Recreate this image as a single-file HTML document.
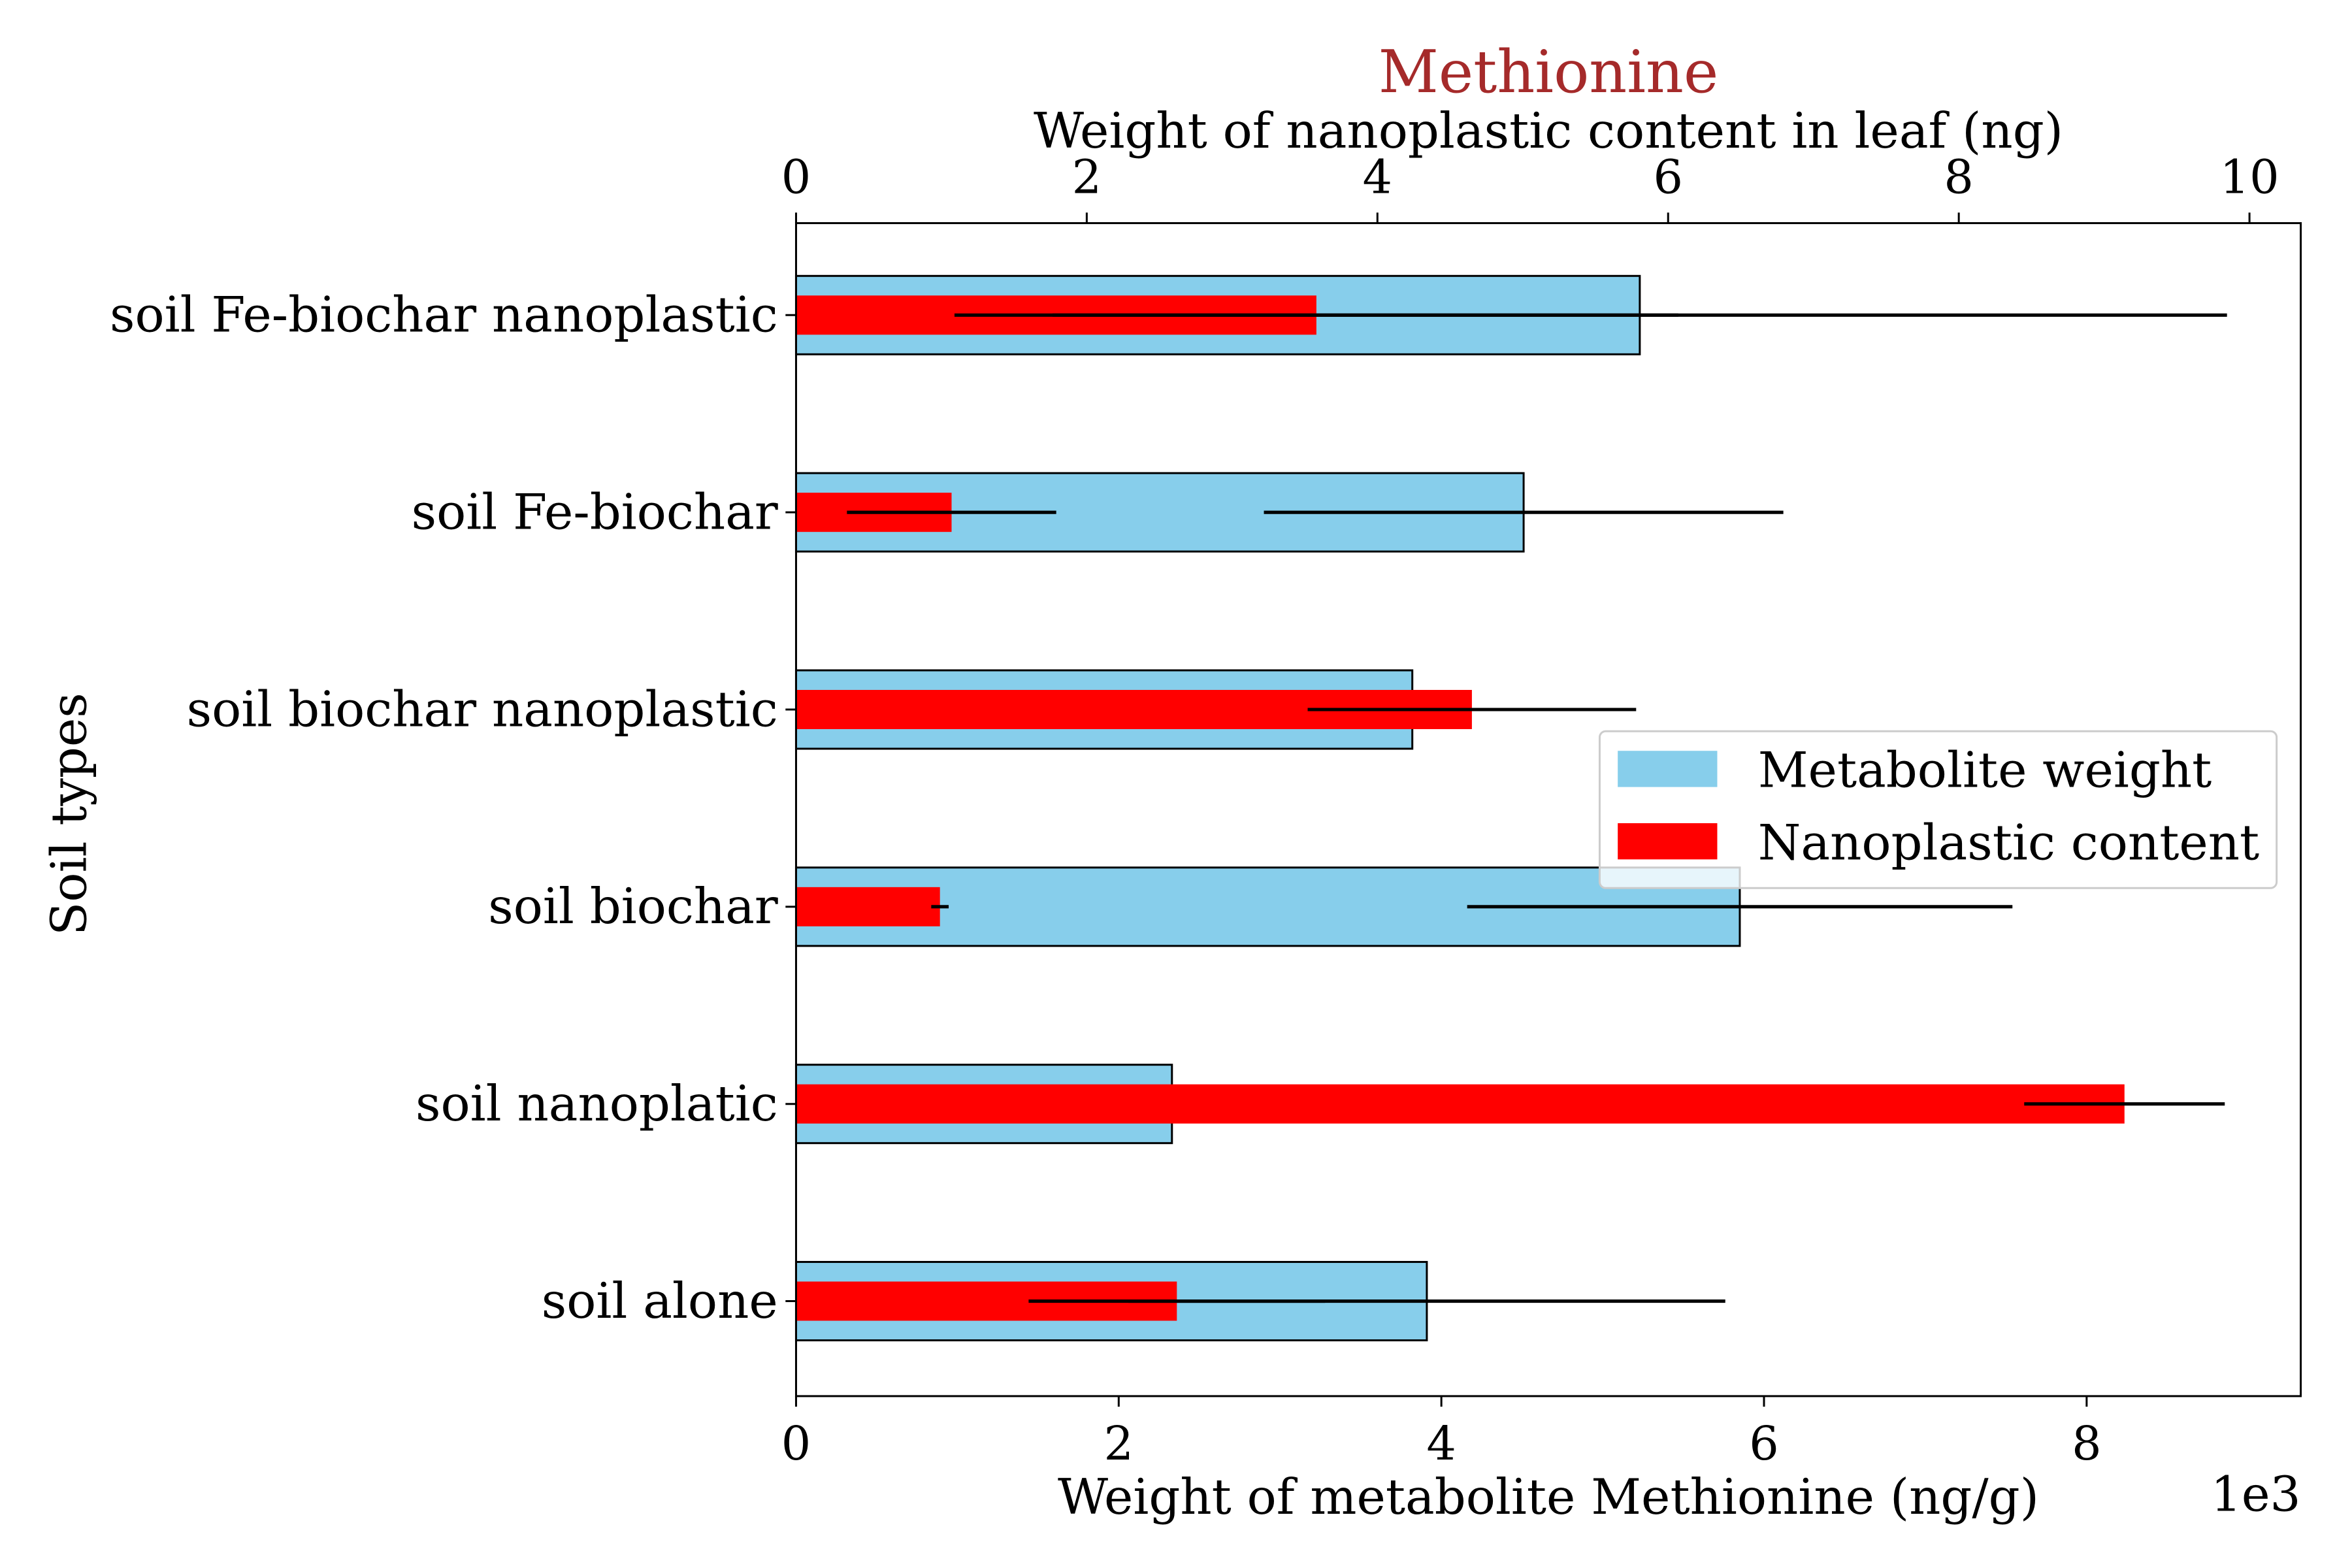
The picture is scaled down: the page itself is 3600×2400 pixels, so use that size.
<!DOCTYPE html>
<html><head><meta charset="utf-8"><style>html,body{margin:0;padding:0;background:#fff}svg{display:block}</style></head>
<body>
<svg id="chart" width="3600" height="2400" viewBox="0 0 1560 1040" xmlns="http://www.w3.org/2000/svg" font-family="'DejaVu Serif','Liberation Serif',serif">
<g id="g"></g>
</svg>
<script>
const categories=["soil Fe-biochar nanoplastic","soil Fe-biochar","soil biochar nanoplastic","soil biochar","soil nanoplatic","soil alone"];
const metaboliteValues=[5.23,4.51,3.82,5.85,2.33,3.91];
const metaboliteErr=[3.64,1.61,0.05,1.69,0.0,1.85];
const nanoValues=[3.58,1.07,4.65,0.99,9.14,2.62];
const nanoErr=[2.49,0.72,1.13,0.06,0.69,1.02];
const bottomTicks=[0,2,4,6,8];
const topTicks=[0,2,4,6,8,10];

const L=528,R=1526,T=148,B=926;
const xb=v=>L+v*107.0;
const xt=v=>L+v*96.4;
const yc=i=>209+i*130.8;
const ns="http://www.w3.org/2000/svg";
const g=document.getElementById('g');
function el(tag,attrs,text){const e=document.createElementNS(ns,tag);for(const k in attrs)e.setAttribute(k,attrs[k]);if(text!==undefined)e.textContent=text;g.appendChild(e);return e;}

categories.forEach((c,i)=>{
  const y=yc(i);
  const b=el('rect',{x:L,y:y-26,width:xb(metaboliteValues[i])-L,height:52,fill:'#87ceeb',stroke:'#000','stroke-width':1.3});
  
  
  const r=el('rect',{x:L,y:y-13,width:xt(nanoValues[i])-L,height:26,fill:'#ff0000'});
  
  
});
categories.forEach((c,i)=>{
  const y=yc(i);
  if(metaboliteErr[i]>0){
  const e1=el('line',{x1:xb(metaboliteValues[i]-metaboliteErr[i]),x2:xb(metaboliteValues[i]+metaboliteErr[i]),y1:y,y2:y,stroke:'#000','stroke-width':2.2});
  
  }
  const e2=el('line',{x1:xt(nanoValues[i]-nanoErr[i]),x2:xt(nanoValues[i]+nanoErr[i]),y1:y,y2:y,stroke:'#000','stroke-width':2.2});
  
  
  el('line',{x1:L-7,x2:L,y1:y,y2:y,stroke:'#000','stroke-width':1.3});
  const t=el('text',{x:L-12,y:y+11,'text-anchor':'end','font-size':32.5},c);
  
  
});
const fr=el('rect',{x:L,y:T,width:R-L,height:B-T,fill:'none',stroke:'#000','stroke-width':1.3});


bottomTicks.forEach(v=>{
  el('line',{x1:xb(v),x2:xb(v),y1:B,y2:B+7,stroke:'#000','stroke-width':1.3});
  const t=el('text',{x:xb(v),y:B+42,'text-anchor':'middle','font-size':31},String(v));
  
  
});
topTicks.forEach(v=>{
  el('line',{x1:xt(v),x2:xt(v),y1:T,y2:T-7,stroke:'#000','stroke-width':1.3});
  const t=el('text',{x:xt(v),y:T-20,'text-anchor':'middle','font-size':31},String(v));
  
  
});
</script>
<script>
(function(){
const ns="http://www.w3.org/2000/svg";const g=document.getElementById('g');
function el(tag,attrs,text){const e=document.createElementNS(ns,tag);for(const k in attrs)e.setAttribute(k,attrs[k]);if(text!==undefined)e.textContent=text;g.appendChild(e);return e;}
let t;
t=el('text',{x:1027,y:61,'text-anchor':'middle','font-size':39,fill:'#a52a2a'},'Methionine');

t=el('text',{x:1027,y:98,'text-anchor':'middle','font-size':32.5},'Weight of nanoplastic content in leaf (ng)');

t=el('text',{x:1027,y:1004,'text-anchor':'middle','font-size':32.5},'Weight of metabolite Methionine (ng/g)');

t=el('text',{x:1526,y:1002,'text-anchor':'end','font-size':32},'1e3');

t=el('text',{x:57,y:540,'text-anchor':'middle','font-size':32.5,transform:'rotate(-90 57 540)'},'Soil types');

t=el('rect',{x:1061,y:485,width:449,height:104,rx:4,fill:'#fff','fill-opacity':0.8,stroke:'#ccc','stroke-width':1.3});

el('rect',{x:1073,y:498,width:66,height:24,fill:'#87ceeb'});
el('rect',{x:1073,y:546,width:66,height:24,fill:'#ff0000'});
t=el('text',{x:1166,y:522,'font-size':32.5},'Metabolite weight');

t=el('text',{x:1166,y:570,'font-size':32.5},'Nanoplastic content');

})();
</script>
</body></html>
